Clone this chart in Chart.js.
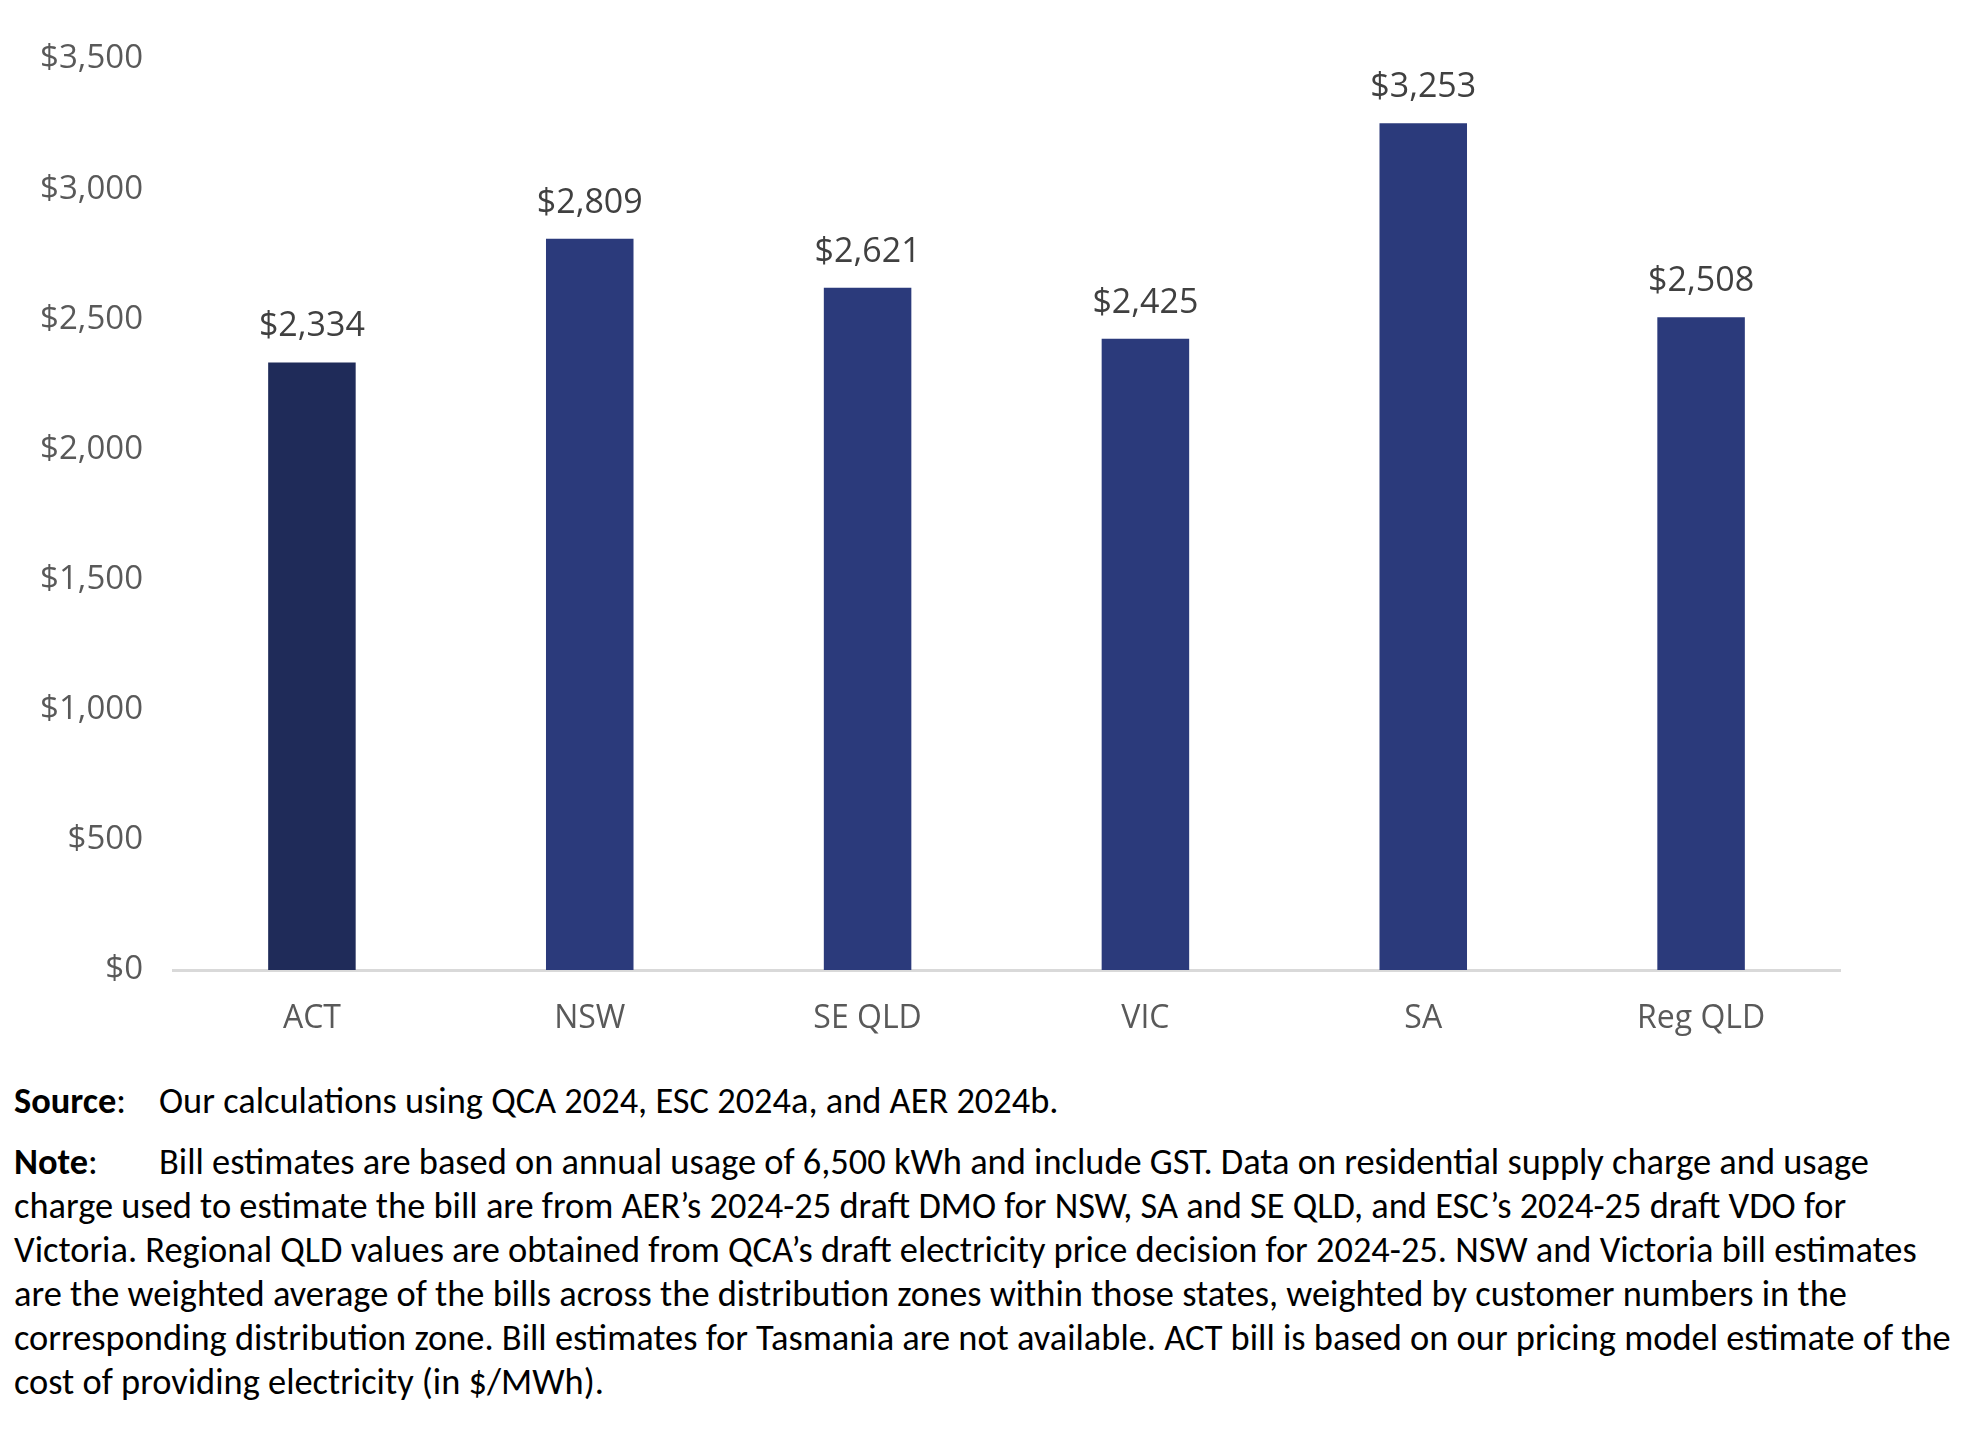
<!DOCTYPE html>
<html>
<head>
<meta charset="utf-8">
<script src="https://cdn.jsdelivr.net/npm/chart.js@4.4.1/dist/chart.umd.min.js"></script>
<style>
  body { margin: 0; background: #fff; }
  #wrap { position: absolute; left: 0; top: 0; width: 1972px; height: 1060px; }
  #notes { position: absolute; left: 14px; top: 1079px; width: 1958px;
           font-family: Carlito, Lato, sans-serif; font-size: 36.4px; line-height: 44px; color: #000; }
  #notes div { white-space: nowrap; }
  #notes .lab { display: inline-block; width: 145px; }
  #notes .gap { height: 17px; }
</style>
</head>
<body>
<div id="wrap"><canvas id="chart"></canvas></div>
<div id="notes">
  <div><span class="lab"><b>Source</b>:</span>Our calculations using QCA 2024, ESC 2024a, and AER 2024b.</div>
  <div class="gap"></div>
  <div><span class="lab"><b>Note</b>:</span>Bill estimates are based on annual usage of 6,500 kWh and include GST. Data on residential supply charge and usage</div>
  <div>charge used to estimate the bill are from AER’s 2024-25 draft DMO for NSW, SA and SE QLD, and ESC’s 2024-25 draft VDO for</div>
  <div>Victoria. Regional QLD values are obtained from QCA’s draft electricity price decision for 2024-25. NSW and Victoria bill estimates</div>
  <div>are the weighted average of the bills across the distribution zones within those states, weighted by customer numbers in the</div>
  <div>corresponding distribution zone. Bill estimates for Tasmania are not available. ACT bill is based on our pricing model estimate of the</div>
  <div>cost of providing electricity (in $/MWh).</div>
</div>
<script>
var regions = ['ACT', 'NSW', 'SE QLD', 'VIC', 'SA', 'Reg QLD'];
var bills = [2334, 2809, 2621, 2425, 3253, 2508];
var barColours = ['#1F2B59', '#2B3A7B', '#2B3A7B', '#2B3A7B', '#2B3A7B', '#2B3A7B'];

function dollars(v) {
  return '$' + Number(v).toLocaleString('en-AU');
}

// value labels above each bar
var barLabels = {
  id: 'barLabels',
  afterDatasetsDraw: function (chart) {
    var ctx = chart.ctx;
    var meta = chart.getDatasetMeta(0);
    ctx.save();
    ctx.font = '34px "Open Sans"';
    ctx.fillStyle = '#404040';
    ctx.textAlign = 'center';
    ctx.textBaseline = 'alphabetic';
    meta.data.forEach(function (bar, i) {
      ctx.fillText(dollars(chart.data.datasets[0].data[i]), bar.x, bar.y - 26);
    });
    ctx.restore();
  }
};

var ctx = document.getElementById('chart').getContext('2d');
var chart = new Chart(ctx, {
  type: 'bar',
  data: {
    labels: regions,
    datasets: [{
      data: bills,
      backgroundColor: barColours,
      categoryPercentage: 1,
      barPercentage: 0.315
    }]
  },
  options: {
    responsive: true,
    maintainAspectRatio: false,
    animation: false,
    layout: { padding: { left: 0, right: 132, top: 59, bottom: 0 } },
    plugins: { legend: { display: false }, tooltip: { enabled: false } },
    scales: {
      x: {
        grid: { display: false, drawTicks: false },
        border: { display: true, color: '#D9D9D9', width: 3 },
        ticks: { color: '#595959', font: { family: 'Open Sans', size: 32 }, padding: 30 },
        afterFit: function (s) { s.height = 90; }
      },
      y: {
        min: 0,
        max: 3500,
        grid: { display: false, drawTicks: false },
        border: { display: false },
        ticks: {
          stepSize: 500,
          color: '#595959',
          font: { family: 'Open Sans', size: 33 },
          padding: 30,
          callback: function (v) { return dollars(v); }
        },
        afterFit: function (s) { s.width = 173; }
      }
    }
  },
  plugins: [barLabels]
});
</script>
</body>
</html>
